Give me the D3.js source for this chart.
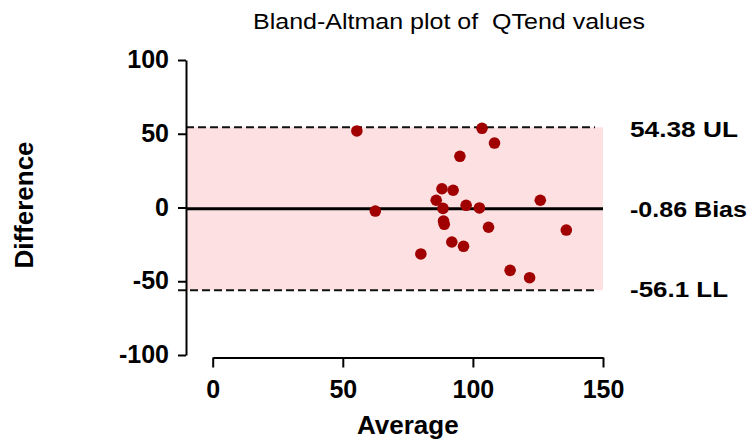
<!DOCTYPE html>
<html>
<head>
<meta charset="utf-8">
<script src="https://cdn.jsdelivr.net/npm/d3@7"></script>
<style>
    body { margin: 0; background: #fff; }
    svg { display: block; font-family: "Liberation Sans", Arial, sans-serif; }
</style>
</head>
<body>
<div id="container1"></div>
<script>
// averages (x) and differences (y)
let avgValues  = [55.4, 103.5, 108.3, 95.0, 88.1, 92.4, 85.9, 125.9, 97.4, 102.5, 88.5, 62.5, 88.7, 89.0, 106.0, 135.9, 91.9, 96.4, 80.0, 114.3, 121.8]
let diffValues = [51.9, 53.7, 43.7, 34.7, 12.7, 11.7, 4.9, 4.9, 1.5, -0.3, -0.6, -2.4, -9.2, -11.4, -13.4, -15.3, -23.4, -26.3, -31.5, -42.6, -47.6]

let limitValues = [54.38, -0.86, -56.1]
let limitLabels = ["54.38 UL", "-0.86 Bias", "-56.1 LL"]

let xTicks = [0, 50, 100, 150]
let yTicks = [-100, -50, 0, 50, 100]

const w = 755;
const h = 441;

const svg1 = d3.select("#container1")
    .append("svg")
    .attr("width", w)
    .attr("height", h);

const xScale = d3.scaleLinear()
    .domain([0, 150])
    .range([212.7, 603]);

const yScale = d3.scaleLinear()
    .domain([-100, 100])
    .range([355, 60]);

const yAxisX = 186;
const xAxisY = 357.5;

// pink band between the limits of agreement
svg1.append("rect")
    .attr("x", yAxisX)
    .attr("y", yScale(limitValues[0]))
    .attr("width", xScale(150) - yAxisX)
    .attr("height", yScale(limitValues[2]) - yScale(limitValues[0]))
    .attr("fill", "#fde0e1");

// UL and LL dashed lines
svg1.append("line")
    .attr("x1", yAxisX).attr("x2", 595)
    .attr("y1", yScale(limitValues[0])).attr("y2", yScale(limitValues[0]))
    .attr("stroke", "#111").attr("stroke-width", 2)
    .attr("stroke-dasharray", "8,4");

svg1.append("line")
    .attr("x1", 178).attr("x2", 595)
    .attr("y1", yScale(limitValues[2])).attr("y2", yScale(limitValues[2]))
    .attr("stroke", "#111").attr("stroke-width", 2)
    .attr("stroke-dasharray", "8,4");

// bias line
svg1.append("line")
    .attr("x1", yAxisX).attr("x2", xScale(150))
    .attr("y1", yScale(limitValues[1])).attr("y2", yScale(limitValues[1]))
    .attr("stroke", "#000").attr("stroke-width", 3);

// points
svg1.selectAll("circle")
    .data(avgValues)
    .enter()
    .append("circle")
    .attr("cx", d => xScale(d))
    .attr("cy", (d, i) => yScale(diffValues[i]))
    .attr("r", 5.8)
    .attr("fill", "#a00000");

const fmt = d => String(d)   // plain hyphen minus like the original
const xAxis = d3.axisBottom(xScale).tickValues(xTicks).tickFormat(fmt).tickSize(10).tickSizeOuter(0).tickPadding(13)
const yAxis = d3.axisLeft(yScale).tickValues(yTicks).tickFormat(fmt).tickSize(8).tickSizeOuter(0).tickPadding(9)

const gx = svg1
    .append("g")
    .attr("transform", `translate(0,${xAxisY})`)
    .attr("class", "axis")
    .call(xAxis)

const gy = svg1
    .append("g")
    .attr("transform", `translate(${yAxisX},0)`)
    .attr("class", "axis")
    .call(yAxis);

[gx, gy].forEach(g => {
    g.selectAll("path, line").attr("stroke", "#000").attr("stroke-width", 2);
    g.selectAll("text")
        .attr("fill", "#000")
        .style("font-family", "'Liberation Sans', Arial, sans-serif")
        .style("font-size", "25px")
        .style("font-weight", "bold");
});
gy.selectAll("text").attr("dy", "0.3em");

// labels for the limits on the right
svg1.selectAll(".limit-label")
    .data(limitLabels)
    .enter()
    .append("text")
    .attr("class", "limit-label")
    .attr("x", 630)
    .attr("y", (d, i) => [137, 217, 297][i])
    .attr("textLength", (d, i) => [108, 117, 98][i])
    .attr("lengthAdjust", "spacingAndGlyphs")
    .style("font-size", "22px")
    .style("font-weight", "bold")
    .text(d => d);

// title
svg1.append("text")
    .attr("x", 253)
    .attr("y", 28.5)
    .attr("textLength", 392)
    .attr("lengthAdjust", "spacingAndGlyphs")
    .style("font-size", "22px")
    .style("white-space", "pre")
    .text("Bland-Altman plot of  QTend values");

// axis titles
svg1.append("text")
    .attr("x", (xScale(0) + xScale(150)) / 2)
    .attr("y", 434)
    .attr("text-anchor", "middle")
    .style("font-size", "26px")
    .style("font-weight", "bold")
    .text("Average");

svg1.append("text")
    .attr("transform", `translate(33,205) rotate(-90)`)
    .attr("text-anchor", "middle")
    .style("font-size", "26px")
    .style("font-weight", "bold")
    .text("Difference");
</script>
</body>
</html>
